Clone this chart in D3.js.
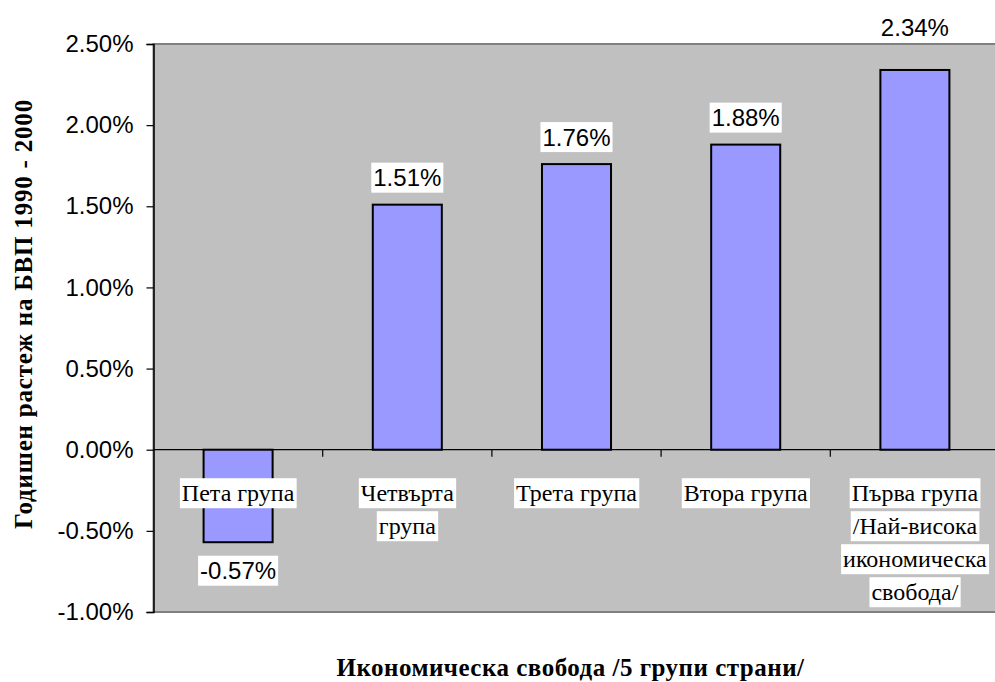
<!DOCTYPE html>
<html>
<head>
<meta charset="utf-8">
<script src="https://cdn.jsdelivr.net/npm/d3@7"></script>
<style>
  html, body { margin: 0; padding: 0; background: #fff; overflow: hidden; }
  svg { display: block; }
</style>
</head>
<body>
<svg id="chart" width="995" height="682"></svg>
<script>
// ---- data ----
const categories = ["Пета група", "Четвърта\nгрупа", "Трета група", "Втора група", "Първа група\n/Най-висока\nикономическа\nсвобода/"];
const values = [-0.0057, 0.0151, 0.0176, 0.0188, 0.0234];
const valueLabels = ["-0.57%", "1.51%", "1.76%", "1.88%", "2.34%"];
const yTicks = [-0.01, -0.005, 0, 0.005, 0.01, 0.015, 0.02, 0.025];
const yTitle = "Годишен растеж на БВП 1990 - 2000";
const xTitle = "Икономическа свобода /5 групи страни/";

// ---- layout ----
const W = 995, H = 682;
const plot = { left: 153.5, top: 44, right: 999.5, bottom: 612 };
const SERIF = "'Liberation Serif', 'Times New Roman', serif";
const SANS = "'Liberation Sans', Arial, sans-serif";
const svg = d3.select("#chart");

const y = d3.scaleLinear().domain([-0.01, 0.025]).range([plot.bottom, plot.top]);
const xBand = d3.scaleBand().domain(d3.range(categories.length)).range([plot.left, plot.right]).paddingInner(0.592).paddingOuter(0.296);
const xSlot = d3.scaleBand().domain(d3.range(categories.length)).range([plot.left, plot.right]).padding(0);

// plot background
svg.append("rect")
  .attr("x", plot.left).attr("y", plot.top)
  .attr("width", plot.right - plot.left).attr("height", plot.bottom - plot.top)
  .attr("fill", "#C0C0C0").attr("stroke", "#808080").attr("stroke-width", 2);

// y axis
const yAxis = d3.axisLeft(y).tickValues(yTicks).tickSize(7).tickPadding(13)
  .tickFormat(d => d3.format(".2%")(d).replace("−", "-"));
const gy = svg.append("g").attr("transform", `translate(${plot.left},0)`).call(yAxis);
gy.select(".domain").attr("stroke", "#000").attr("stroke-width", 1.5);
gy.selectAll(".tick line").attr("stroke", "#000").attr("stroke-width", 1.2);
gy.selectAll(".tick text").attr("font-family", SANS)
  .attr("font-size", 24).attr("fill", "#000");

// zero line
svg.append("line")
  .attr("x1", plot.left).attr("x2", plot.right)
  .attr("y1", y(0)).attr("y2", y(0))
  .attr("stroke", "#000").attr("stroke-width", 1.2);

// category ticks (between slots)
svg.append("g").selectAll("line")
  .data(d3.range(1, categories.length))
  .join("line")
  .attr("x1", i => xSlot(i)).attr("x2", i => xSlot(i))
  .attr("y1", y(0)).attr("y2", y(0) + 7)
  .attr("stroke", "#000").attr("stroke-width", 1.2);

// bars
svg.append("g").selectAll("rect")
  .data(values)
  .join("rect")
  .attr("x", (d, i) => xBand(i))
  .attr("width", xBand.bandwidth())
  .attr("y", d => y(Math.max(0, d)))
  .attr("height", d => Math.abs(y(d) - y(0)))
  .attr("fill", "#9999FF").attr("stroke", "#000").attr("stroke-width", 2);

// helper: text with white background box
function boxedText(g, x, yc, str, font, size, weight) {
  const t = g.append("text")
    .attr("x", x).attr("y", yc)
    .attr("text-anchor", "middle").attr("dominant-baseline", "central")
    .attr("font-family", font).attr("font-size", size).attr("font-weight", weight || "normal")
    .attr("fill", "#000").text(str);
  const bb = t.node().getBBox();
  g.insert("rect", "text")
    .attr("x", bb.x - 2).attr("y", yc - 15)
    .attr("width", bb.width + 4).attr("height", 30)
    .attr("fill", "#fff");
  return t;
}

// value labels
const gv = svg.append("g");
values.forEach((v, i) => {
  const cx = xSlot(i) + xSlot.bandwidth() / 2;
  let yc;
  if (v >= 0) {
    yc = y(v) - 27;
    if (yc - 15 < plot.top) yc = plot.top - 17;
  } else {
    yc = y(v) + 28.5;
  }
  const g = gv.append("g");
  boxedText(g, cx, yc, valueLabels[i], SANS, 24);
});

// category labels
const gc = svg.append("g");
categories.forEach((c, i) => {
  const cx = xSlot(i) + xSlot.bandwidth() / 2;
  c.split("\n").forEach((line, k) => {
    const g = gc.append("g");
    boxedText(g, cx, y(0) + 43.5 + k * 33, line, SERIF, 24);
  });
});

// axis titles
svg.append("text")
  .attr("transform", `translate(23,${(plot.top + plot.bottom) / 2 - 14}) rotate(-90)`)
  .attr("text-anchor", "middle").attr("dominant-baseline", "central")
  .attr("font-family", SERIF).attr("letter-spacing", 0.8)
  .attr("font-size", 25).attr("font-weight", "bold").text(yTitle);

svg.append("text")
  .attr("x", (plot.left + plot.right) / 2 - 6).attr("y", 667)
  .attr("text-anchor", "middle").attr("dominant-baseline", "central")
  .attr("font-family", SERIF).attr("letter-spacing", 0.5)
  .attr("font-size", 25).attr("font-weight", "bold").text(xTitle);
</script>
</body>
</html>
